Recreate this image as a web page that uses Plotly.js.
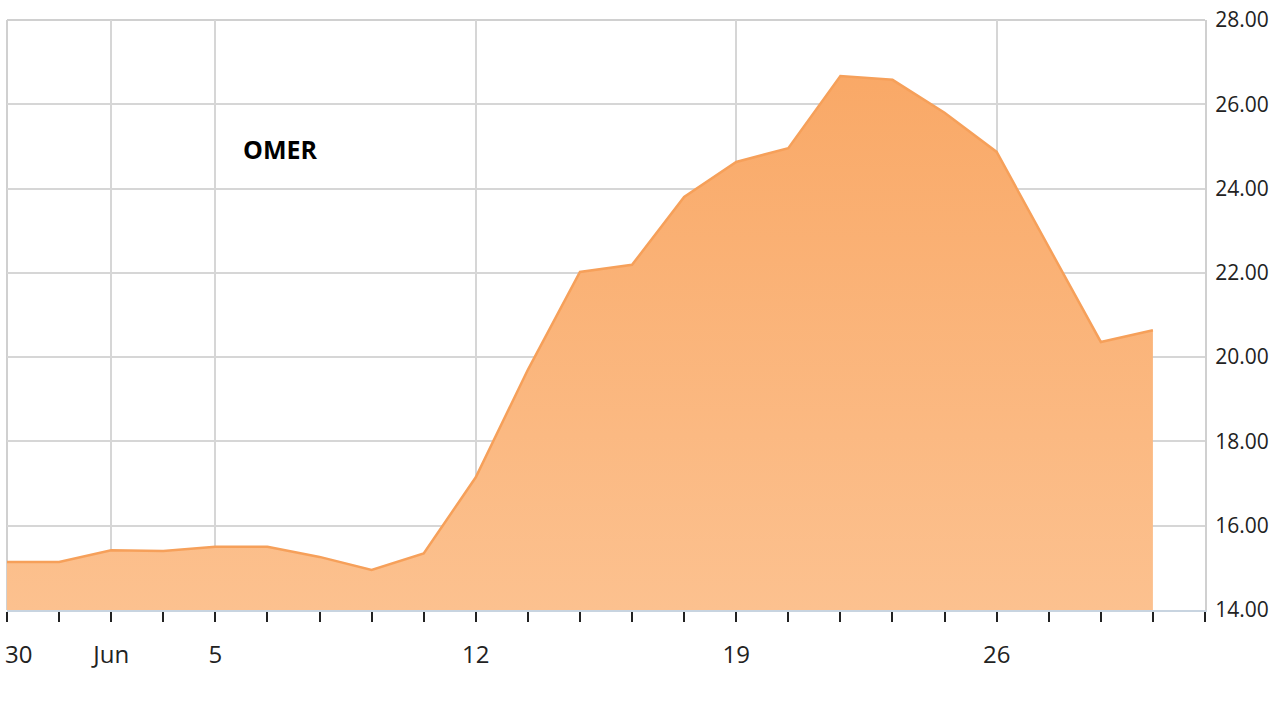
<!DOCTYPE html>
<html>
<head>
<meta charset="utf-8">
<script src="https://cdn.plot.ly/plotly-3.0.1.min.js"></script>
<style>html,body{margin:0;padding:0;background:#fff;}#chart{width:1280px;height:720px;}</style>
</head>
<body>
<div id="chart"></div>
<script>
// Trading days (index positions on a category-like numeric axis)
const dates = ["May 30","May 31","Jun 1","Jun 2","Jun 5","Jun 6","Jun 7","Jun 8","Jun 9",
  "Jun 12","Jun 13","Jun 14","Jun 15","Jun 16","Jun 19","Jun 20","Jun 21","Jun 22","Jun 23",
  "Jun 26","Jun 27","Jun 28","Jun 29"];
const prices = [15.14,15.14,15.42,15.40,15.50,15.50,15.26,14.95,15.34,
  17.15,19.70,22.02,22.19,23.80,24.63,24.96,26.67,26.58,25.80,
  24.87,22.61,20.36,20.64];
const tickIdx = [0,2,4,9,14,19];
const tickText = ["30","Jun","5","12","19","26"];
const yTicks = [14,16,18,20,22,24,26,28];
const yTickText = ["14.00","16.00","18.00","20.00","22.00","24.00","26.00","28.00"];
const title = "OMER";

const xs = dates.map((d,i)=>i);
const allIdx = Array.from({length: dates.length + 1}, (_,i)=>i);

const trace = {
  x: xs, y: prices, type: 'scatter', mode: 'lines',
  line: {color: '#f6a05a', width: 2.5},
  fill: 'tozeroy',
  fillgradient: {type: 'vertical', start: 14, stop: 27,
    colorscale: [[0, '#fcc18f'], [1, '#f9a866']]},
  hoverinfo: 'skip'
};

const fontFam = '"Open Sans", "DejaVu Sans", sans-serif';
const layout = {
  width: 1280, height: 720,
  margin: {l: 7, r: 75, t: 20, b: 110},
  paper_bgcolor: '#fff', plot_bgcolor: '#fff',
  showlegend: false,
  xaxis: {
    range: [0, dates.length],
    tickmode: 'array', tickvals: tickIdx, ticktext: tickText.map((t,i)=> i === 0 ? '' : t),
    showgrid: true, gridcolor: '#d6d6d6', gridwidth: 2,
    ticks: 'outside', ticklen: 10, tickwidth: 2, tickcolor: '#222',
    minor: {tickmode: 'array', tickvals: allIdx, ticks: 'outside', ticklen: 10, tickwidth: 2, tickcolor: '#222', showgrid: false},
    showline: true, linecolor: '#c8d4e0', linewidth: 2,
    zeroline: false,
    ticklabelstandoff: 12,
    tickfont: {family: fontFam, size: 24, color: '#222'},
    fixedrange: true
  },
  yaxis: {
    side: 'right',
    range: [14, 28],
    tickmode: 'array', tickvals: yTicks, ticktext: yTickText,
    showgrid: true, gridcolor: '#d6d6d6', gridwidth: 2,
    ticks: '', showline: true, linecolor: '#d0d0d0', linewidth: 2,
    zeroline: false,
    ticklabelstandoff: 4,
    tickfont: {family: fontFam, size: 21, color: '#222'},
    fixedrange: true
  },
  shapes: [
    {type: 'line', xref: 'paper', yref: 'paper', x0: 0, x1: 0, y0: 0, y1: 1, line: {color: '#d0d0d0', width: 2}, layer: 'below'},
    {type: 'line', xref: 'paper', yref: 'paper', x0: 0, x1: 1, y0: 1, y1: 1, line: {color: '#d0d0d0', width: 2}, layer: 'below'}
  ],
  annotations: [{
    text: '<b>' + title + '</b>', xref: 'x', yref: 'y', x: 4.5, y: 24.95,
    xanchor: 'left', yanchor: 'middle', showarrow: false,
    font: {family: '"Open Sans", "Liberation Sans", sans-serif', size: 25, color: '#000'}
  }, {
    text: tickText[0], xref: 'x', yref: 'paper', x: tickIdx[0], y: 0, yshift: -25,
    xanchor: 'left', yanchor: 'top', xshift: -4, showarrow: false,
    font: {family: fontFam, size: 24, color: '#222'}
  }]
};

Plotly.newPlot('chart', [trace], layout, {displayModeBar: false, staticPlot: true});
</script>
</body>
</html>
